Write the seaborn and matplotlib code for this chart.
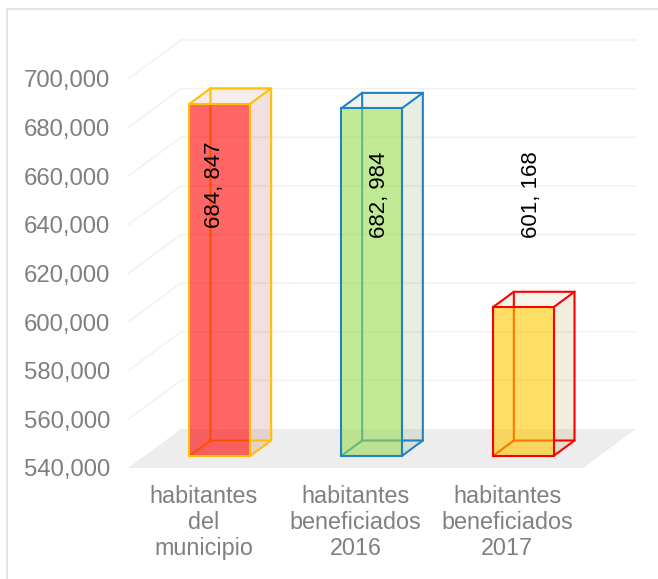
import matplotlib
matplotlib.use("Agg")
import matplotlib.pyplot as plt
from matplotlib.colors import to_rgba
from matplotlib.patches import Polygon
from matplotlib.lines import Line2D
import numpy as np
import pandas as pd
import seaborn as sns

categories = ["habitantes\ndel\nmunicipio", "habitantes\nbeneficiados\n2016", "habitantes\nbeneficiados\n2017"]
values = [684847, 682984, 601168]
tick_values = [540000, 560000, 580000, 600000, 620000, 640000, 660000, 680000, 700000]

fills = ["#FF0000", "#98DC52", "#FFC800"]
edges = ["#FFC000", "#1F82C4", "#FF0000"]
side_cols = ["#BE6464", "#8CAA6E", "#C3A55F"]

W, H = 658, 579
sns.set_theme(style="white", rc={"font.family": ["Liberation Sans", "DejaVu Sans"]})
fig = plt.figure(figsize=(W / 100, H / 100), dpi=100, facecolor="white")

def axes_px(l, r, t, b):
    return fig.add_axes([l / W, 1 - b / H, (r - l) / W, (b - t) / H])

# front plane of the 3D box, and the plane the bars stand on
FL, FR, FT, FB = 128, 583, 79, 468
BAR_DX, BAR_DY = 16, 12
ax0 = axes_px(FL, FR, FT, FB)
ax = axes_px(FL + BAR_DX, FR + BAR_DX, FT - BAR_DY, FB - BAR_DY)
ax.set_zorder(2)
ax.patch.set_alpha(0)

xlim = (-0.5, 2.5)
ylim = (540000, 700000)
px_x = (xlim[1] - xlim[0]) / (FR - FL)
px_y = (ylim[1] - ylim[0]) / (FB - FT)

df = pd.DataFrame({"cat": categories, "val": values})
sns.barplot(data=df, x="cat", y="val", hue="cat", palette=fills, width=0.4,
            saturation=1, legend=False, ax=ax)
for a in (ax0, ax):
    a.set_xlim(*xlim)
    a.set_ylim(*ylim)
    a.set_xlabel("")
    a.set_ylabel("")
    sns.despine(ax=a, left=True, bottom=True)

ax.set_xticks([])
ax.set_yticks([])

# box: floor and walls
WALL_DX, WALL_DY = 53 * px_x, 39 * px_y
floor = Polygon([(xlim[0], ylim[0]), (xlim[1], ylim[0]),
                 (xlim[1] + WALL_DX, ylim[0] + WALL_DY), (xlim[0] + WALL_DX, ylim[0] + WALL_DY)],
                closed=True, fc="#EDEDED", ec="none", clip_on=False, zorder=0.5)
ax0.add_patch(floor)
for t in tick_values[1:]:
    ax0.plot([xlim[0], xlim[0] + WALL_DX, xlim[1] + WALL_DX],
             [t, t + WALL_DY, t + WALL_DY], color="#F1F1F1", lw=1.1,
             clip_on=False, zorder=0.4)

ax0.set_yticks(tick_values)
ax0.set_yticklabels([f"{t:,}" for t in tick_values])
ax0.set_xticks(range(len(categories)))
ax0.set_xticklabels(categories, linespacing=1.15)
ax0.tick_params(axis="y", length=0, pad=13, labelsize=17.2, labelcolor="#7F7F7F")
ax0.tick_params(axis="x", length=0, pad=12.5, labelsize=16.8, labelcolor="#7F7F7F")

# bar depth faces
DX, DY = 21 * px_x, 15.5 * px_y
LW = 1.5
for i, patch in enumerate(ax.patches):
    x0 = patch.get_x()
    x1 = x0 + patch.get_width()
    v = patch.get_height()
    b = ylim[0]
    patch.set_alpha(None)
    patch.set_facecolor(to_rgba(fills[i], 0.6))
    patch.set_edgecolor(edges[i])
    patch.set_linewidth(LW)
    patch.set_zorder(3)
    side = [(x1, b), (x1 + DX, b + DY), (x1 + DX, v + DY), (x1, v)]
    top = [(x0, v), (x0 + DX, v + DY), (x1 + DX, v + DY), (x1, v)]
    ax.add_patch(Polygon(side, closed=True, fc=to_rgba(side_cols[i], 0.2), ec="none", clip_on=False, zorder=1))
    ax.add_patch(Polygon(top, closed=True, fc=to_rgba(side_cols[i], 0.12), ec="none", clip_on=False, zorder=1))
    segs = [
        ([x0, x0 + DX, x1 + DX, x1 + DX, x0 + DX, x0 + DX], [b, b + DY, b + DY, v + DY, v + DY, b + DY]),
        ([x0, x0 + DX], [v, v + DY]),
        ([x1, x1 + DX], [v, v + DY]),
        ([x1, x1 + DX], [b, b + DY]),
    ]
    for xs, ys in segs:
        ax.plot(xs, ys, color=edges[i], lw=LW, clip_on=False, zorder=2, solid_joinstyle="miter")
    ax.plot([x0, x1], [b, b], color=edges[i], lw=LW, clip_on=False, zorder=4)

# data labels
label_dx = [-5, 8, 8]
label_y = [651500, 647400, 647400]
for i, v in enumerate(values):
    ax.text(i + label_dx[i] * px_x, label_y[i], f"{v:,}".replace(",", ", "),
            rotation=90, ha="center", va="center", fontsize=16, color="black", zorder=5)

# chart frame
fig.add_artist(Line2D([6.5 / W, 6.5 / W], [0, 1 - 8.5 / H], color="#E3E3E3", lw=1.4))
fig.add_artist(Line2D([6.5 / W, 1], [1 - 8.5 / H, 1 - 8.5 / H], color="#E3E3E3", lw=1.4))

fig.savefig("out.png", dpi=100)
